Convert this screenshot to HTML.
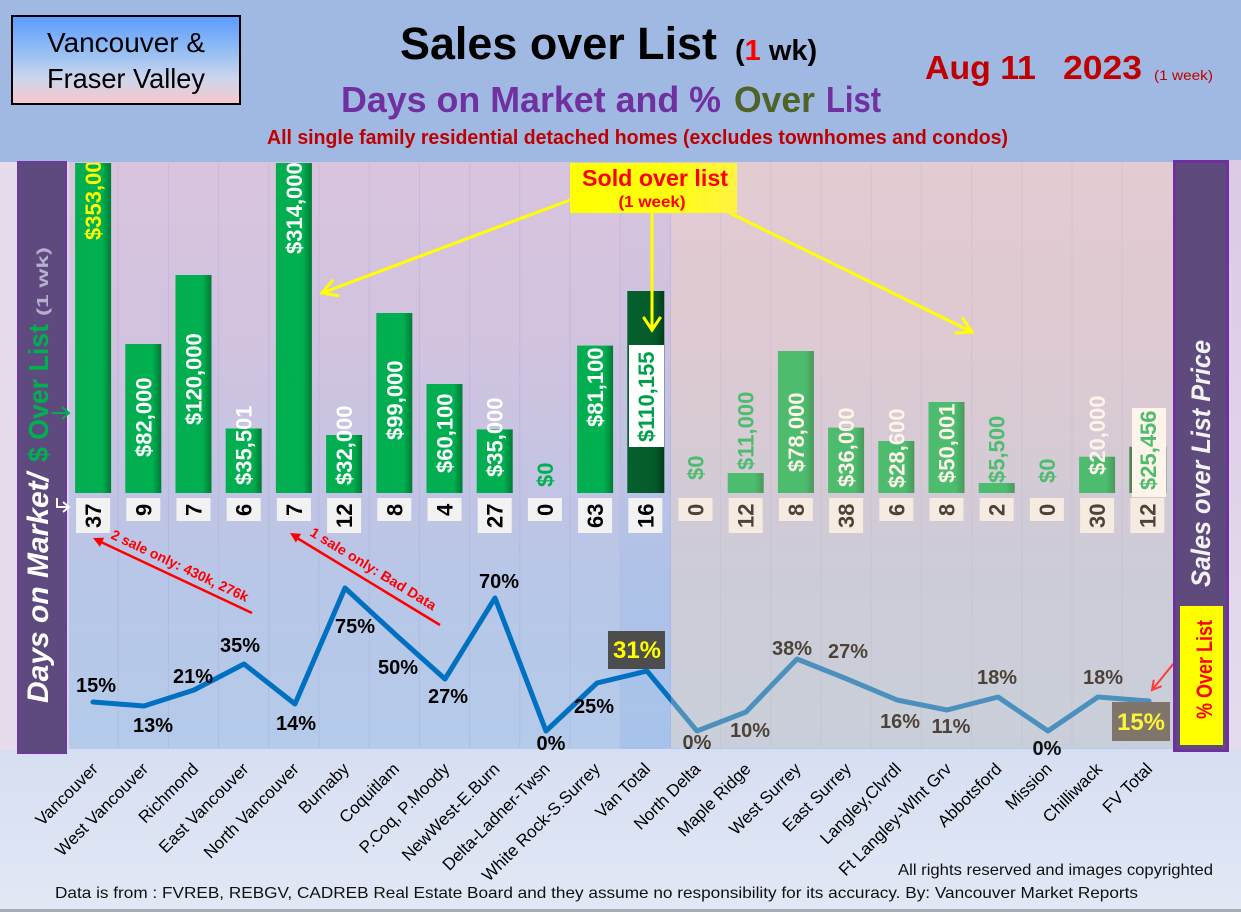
<!DOCTYPE html>
<html><head><meta charset="utf-8"><style>
html,body{margin:0;padding:0;width:1241px;height:912px;overflow:hidden;background:#dbe3f2}
svg{display:block}
text{font-family:"Liberation Sans",Arial,sans-serif}
</style></head><body>
<svg width="1241" height="912" viewBox="0 0 1241 912" xmlns="http://www.w3.org/2000/svg">
<defs>
 <linearGradient id="hdrbox" x1="0" y1="0" x2="0" y2="1">
  <stop offset="0" stop-color="#5a9bff"/><stop offset="0.45" stop-color="#9cc2f2"/><stop offset="0.72" stop-color="#cfd6ec"/><stop offset="1" stop-color="#f7c6c9"/>
 </linearGradient>
 <linearGradient id="plotbg" gradientUnits="userSpaceOnUse" x1="0" y1="162" x2="0" y2="750">
  <stop offset="0" stop-color="#d9c4de"/><stop offset="0.3" stop-color="#d2c3df"/><stop offset="0.55" stop-color="#c2c4e3"/><stop offset="0.7" stop-color="#b8c6e7"/><stop offset="1" stop-color="#b4cbea"/>
 </linearGradient>
 <linearGradient id="botbg" gradientUnits="userSpaceOnUse" x1="0" y1="748" x2="0" y2="912">
  <stop offset="0" stop-color="#d6dff2"/><stop offset="1" stop-color="#e2e8f5"/>
 </linearGradient>
 <linearGradient id="rmarg" x1="0" y1="0" x2="0" y2="1">
  <stop offset="0" stop-color="#dccae4"/><stop offset="1" stop-color="#e4dcee"/>
 </linearGradient>
 <linearGradient id="vtband" x1="0" y1="0" x2="0" y2="1">
  <stop offset="0" stop-color="#8fb4ec" stop-opacity="0"/><stop offset="0.5" stop-color="#8fb4ec" stop-opacity="0.12"/><stop offset="1" stop-color="#8fb4ec" stop-opacity="0.35"/>
 </linearGradient>
 <linearGradient id="bar" x1="0" y1="0" x2="1" y2="0">
  <stop offset="0" stop-color="#03ae50"/><stop offset="0.75" stop-color="#00b050"/><stop offset="1" stop-color="#007a36"/>
 </linearGradient>
 <linearGradient id="dbar" x1="0" y1="0" x2="1" y2="0">
  <stop offset="0" stop-color="#06602e"/><stop offset="0.75" stop-color="#055a2a"/><stop offset="1" stop-color="#023d1b"/>
 </linearGradient>
 <linearGradient id="sold" x1="0" y1="0" x2="1" y2="0">
  <stop offset="0" stop-color="#ffff00"/><stop offset="0.6" stop-color="#ffff10"/><stop offset="1" stop-color="#fff244"/>
 </linearGradient>
 <clipPath id="pc"><rect x="66" y="163" width="1108" height="587"/></clipPath>
</defs>

<!-- backgrounds -->
<rect x="0" y="0" width="1241" height="912" fill="url(#botbg)"/>
<rect x="0" y="0" width="1241" height="162" fill="#9fb9e3"/>
<rect x="0" y="162" width="17" height="588" fill="#e6dcec"/>
<rect x="1229" y="160" width="12" height="590" fill="url(#rmarg)"/>
<rect x="66" y="162" width="1108" height="587" fill="url(#plotbg)"/>
<rect x="621" y="162" width="50" height="587" fill="url(#vtband)"/>

<!-- vertical grid -->
<g stroke="#a79cd0" stroke-opacity="0.3" stroke-width="1">
 <line x1="118.2" y1="163" x2="118.2" y2="748"/><line x1="168.4" y1="163" x2="168.4" y2="748"/><line x1="218.6" y1="163" x2="218.6" y2="748"/><line x1="268.8" y1="163" x2="268.8" y2="748"/><line x1="319" y1="163" x2="319" y2="748"/><line x1="369.2" y1="163" x2="369.2" y2="748"/><line x1="419.4" y1="163" x2="419.4" y2="748"/><line x1="469.6" y1="163" x2="469.6" y2="748"/><line x1="519.8" y1="163" x2="519.8" y2="748"/><line x1="570" y1="163" x2="570" y2="748"/><line x1="620.2" y1="163" x2="620.2" y2="748"/><line x1="670.4" y1="163" x2="670.4" y2="748"/><line x1="720.6" y1="163" x2="720.6" y2="748"/><line x1="770.8" y1="163" x2="770.8" y2="748"/><line x1="821" y1="163" x2="821" y2="748"/><line x1="871.2" y1="163" x2="871.2" y2="748"/><line x1="921.4" y1="163" x2="921.4" y2="748"/><line x1="971.6" y1="163" x2="971.6" y2="748"/><line x1="1021.8" y1="163" x2="1021.8" y2="748"/><line x1="1072" y1="163" x2="1072" y2="748"/><line x1="1122.2" y1="163" x2="1122.2" y2="748"/>
</g>

<!-- bars -->
<g clip-path="url(#pc)">
 <rect x="75.1" y="150" width="36" height="343" fill="url(#bar)"/>
 <rect x="125.3" y="344" width="36" height="149" fill="url(#bar)"/>
 <rect x="175.5" y="275" width="36" height="218" fill="url(#bar)"/>
 <rect x="225.7" y="428.5" width="36" height="64.5" fill="url(#bar)"/>
 <rect x="275.9" y="150" width="36" height="343" fill="url(#bar)"/>
 <rect x="326.1" y="435" width="36" height="58" fill="url(#bar)"/>
 <rect x="376.3" y="313" width="36" height="180" fill="url(#bar)"/>
 <rect x="426.5" y="384" width="36" height="109" fill="url(#bar)"/>
 <rect x="476.7" y="429.4" width="36" height="63.6" fill="url(#bar)"/>
 <rect x="577.1" y="345.6" width="36" height="147.4" fill="url(#bar)"/>
 <rect x="627.3" y="291" width="37" height="202" fill="url(#dbar)"/>
 <rect x="727.7" y="473" width="36" height="20" fill="url(#bar)"/>
 <rect x="777.9" y="351" width="36" height="142" fill="url(#bar)"/>
 <rect x="828.1" y="427.6" width="36" height="65.4" fill="url(#bar)"/>
 <rect x="878.3" y="441" width="36" height="52" fill="url(#bar)"/>
 <rect x="928.5" y="402" width="36" height="91" fill="url(#bar)"/>
 <rect x="978.7" y="483" width="36" height="10" fill="url(#bar)"/>
 <rect x="1079.1" y="456.7" width="36" height="36.3" fill="url(#bar)"/>
 <rect x="1129.3" y="446.7" width="37" height="46.3" fill="url(#dbar)"/>

 <!-- label boxes -->
 <rect x="629" y="345" width="35" height="102" fill="#ffffff"/>
 <rect x="1132" y="408" width="34" height="89" fill="#ffffff"/>

 <!-- bar value labels -->
 <g font-size="22" font-weight="bold">
  <text transform="translate(101.1,240) rotate(-90)" fill="#ffff00">$353,000</text>
  <text transform="translate(151.3,457) rotate(-90)" fill="#ffffff">$82,000</text>
  <text transform="translate(201.5,425) rotate(-90)" fill="#ffffff">$120,000</text>
  <text transform="translate(251.7,485) rotate(-90)" fill="#ffffff">$35,501</text>
  <text transform="translate(301.9,254) rotate(-90)" fill="#ffffff">$314,000</text>
  <text transform="translate(352.1,485) rotate(-90)" fill="#ffffff">$32,000</text>
  <text transform="translate(402.3,440) rotate(-90)" fill="#ffffff">$99,000</text>
  <text transform="translate(452.5,473) rotate(-90)" fill="#ffffff">$60,100</text>
  <text transform="translate(502.7,477) rotate(-90)" fill="#ffffff">$35,000</text>
  <text transform="translate(552.9,487) rotate(-90)" fill="#00b050">$0</text>
  <text transform="translate(603.1,427) rotate(-90)" fill="#ffffff">$81,100</text>
  <text transform="translate(654,442) rotate(-90)" fill="#00a04a">$110,155</text>
  <text transform="translate(703.5,480) rotate(-90)" fill="#00b050">$0</text>
  <text transform="translate(753.7,470) rotate(-90)" fill="#00b050">$11,000</text>
  <text transform="translate(803.9,472) rotate(-90)" fill="#ffffff">$78,000</text>
  <text transform="translate(854.1,487) rotate(-90)" fill="#ffffff">$36,000</text>
  <text transform="translate(904.3,488) rotate(-90)" fill="#ffffff">$28,600</text>
  <text transform="translate(954.5,483) rotate(-90)" fill="#ffffff">$50,001</text>
  <text transform="translate(1004.7,483) rotate(-90)" fill="#00b050">$5,500</text>
  <text transform="translate(1054.9,483) rotate(-90)" fill="#00b050">$0</text>
  <text transform="translate(1105.1,475) rotate(-90)" fill="#ffffff">$20,000</text>
  <text transform="translate(1156,490) rotate(-90)" fill="#00b050">$25,456</text>
 </g>
</g>

<!-- days boxes -->
<g fill="#f2f2f2">
 <rect x="76.1" y="498" width="34" height="35"/><rect x="126.3" y="498" width="34" height="23"/><rect x="176.5" y="498" width="34" height="23"/><rect x="226.7" y="498" width="34" height="23"/><rect x="276.9" y="498" width="34" height="23"/><rect x="327.1" y="498" width="34" height="35"/><rect x="377.3" y="498" width="34" height="23"/><rect x="427.5" y="498" width="34" height="23"/><rect x="477.7" y="498" width="34" height="35"/><rect x="527.9" y="498" width="34" height="23"/><rect x="578.1" y="498" width="34" height="35"/><rect x="628.3" y="498" width="34" height="35"/>
 <rect x="678.5" y="498" width="34" height="23"/><rect x="728.7" y="498" width="34" height="35"/><rect x="778.9" y="498" width="34" height="23"/><rect x="829.1" y="498" width="34" height="35"/><rect x="879.3" y="498" width="34" height="23"/><rect x="929.5" y="498" width="34" height="23"/><rect x="979.7" y="498" width="34" height="23"/><rect x="1029.9" y="498" width="34" height="23"/><rect x="1080.1" y="498" width="34" height="35"/><rect x="1130.3" y="498" width="34" height="35"/>
</g>
<g font-size="22" font-weight="bold" fill="#000">
 <text transform="translate(101.1,528) rotate(-90)">37</text>
 <text transform="translate(151.3,516) rotate(-90)">9</text>
 <text transform="translate(201.5,516) rotate(-90)">7</text>
 <text transform="translate(251.7,516) rotate(-90)">6</text>
 <text transform="translate(301.9,516) rotate(-90)">7</text>
 <text transform="translate(352.1,528) rotate(-90)">12</text>
 <text transform="translate(402.3,516) rotate(-90)">8</text>
 <text transform="translate(452.5,516) rotate(-90)">4</text>
 <text transform="translate(502.7,528) rotate(-90)">27</text>
 <text transform="translate(552.9,516) rotate(-90)">0</text>
 <text transform="translate(603.1,528) rotate(-90)">63</text>
 <text transform="translate(653.3,528) rotate(-90)">16</text>
 <text transform="translate(703.5,516) rotate(-90)">0</text>
 <text transform="translate(753.7,528) rotate(-90)">12</text>
 <text transform="translate(803.9,516) rotate(-90)">8</text>
 <text transform="translate(854.1,528) rotate(-90)">38</text>
 <text transform="translate(904.3,516) rotate(-90)">6</text>
 <text transform="translate(954.5,516) rotate(-90)">8</text>
 <text transform="translate(1004.7,516) rotate(-90)">2</text>
 <text transform="translate(1054.9,516) rotate(-90)">0</text>
 <text transform="translate(1105.1,528) rotate(-90)">30</text>
 <text transform="translate(1155.3,528) rotate(-90)">12</text>
</g>

<!-- % over list line -->
<polyline fill="none" stroke="#0070c0" stroke-width="5" stroke-linejoin="round" stroke-linecap="round"
 points="93,702 144,706 194,690 244,664 295,704 345,588 396,635 445,679 495,598 546,731 597,683 647,671 697,731 746,712 797,659 847,679 897,700 947,710 998,697 1048,731 1098,697 1149,701"/>

<!-- line labels -->
<g font-size="20" font-weight="bold" fill="#000" text-anchor="middle">
 <text x="96" y="692">15%</text>
 <text x="153" y="732">13%</text>
 <text x="193" y="683">21%</text>
 <text x="240" y="652">35%</text>
 <text x="296" y="730">14%</text>
 <text x="355" y="633">75%</text>
 <text x="398" y="674">50%</text>
 <text x="448" y="703">27%</text>
 <text x="499" y="588">70%</text>
 <text x="551" y="750">0%</text>
 <text x="594" y="713">25%</text>
 <text x="697" y="749">0%</text>
 <text x="750" y="737">10%</text>
 <text x="792" y="655">38%</text>
 <text x="848" y="658">27%</text>
 <text x="900" y="728">16%</text>
 <text x="951" y="733">11%</text>
 <text x="997" y="684">18%</text>
 <text x="1103" y="684">18%</text>
</g>
<rect x="608" y="631" width="57" height="38" fill="#4d4d4d"/>
<text x="637" y="658" font-size="24" font-weight="bold" fill="#ffff00" text-anchor="middle">31%</text>
<rect x="1112" y="702" width="58" height="39" fill="#4a4a4a"/>
<text x="1141" y="730" font-size="24" font-weight="bold" fill="#ffff00" text-anchor="middle">15%</text>

<!-- Fraser Valley overlay -->
<rect x="671" y="162" width="503" height="586" fill="rgb(253,219,182)" fill-opacity="0.3"/>
<text x="1047" y="755" font-size="20" font-weight="bold" fill="#111" text-anchor="middle">0%</text>

<!-- red annotations -->
<g stroke="#ff0000" stroke-width="2.5" fill="none">
 <line x1="252" y1="613" x2="101" y2="542"/>
 <line x1="440" y1="625" x2="297" y2="538"/>
</g>
<polygon points="93,538 104.1,537.8 99.9,546.8" fill="#ff0000"/>
<polygon points="290,533 301.1,533.9 295.9,542.5" fill="#ff0000"/>
<text transform="translate(110,538) rotate(25.3)" font-size="14" font-weight="bold" fill="#ff0000" textLength="150" lengthAdjust="spacingAndGlyphs">2 sale only: 430k, 276k</text>
<text transform="translate(309,535) rotate(31.5)" font-size="14" font-weight="bold" fill="#ff0000" textLength="145" lengthAdjust="spacingAndGlyphs">1 sale only: Bad Data</text>
<g stroke="#ff3b3b" stroke-width="2" fill="none">
 <line x1="1174" y1="663" x2="1152" y2="690"/>
 <polyline points="1161.6,686.2 1152,690 1153.8,679.8"/>
</g>

<!-- yellow arrows -->
<g stroke="#ffff00" stroke-width="3" fill="none" stroke-linecap="round">
 <line x1="570" y1="200" x2="322" y2="293"/>
 <polyline points="337.9,295.6 322,293 332.3,280.6"/>
 <line x1="652" y1="213" x2="652" y2="330"/>
 <polyline points="644,318 652,330 660,318"/>
 <line x1="730" y1="213" x2="972" y2="332"/>
 <polyline points="955.9,333 972,332 962.9,318.6"/>
</g>
<rect x="570" y="163" width="167" height="50" fill="url(#sold)"/>
<text x="655" y="186" font-size="23" font-weight="bold" fill="#ff0000" text-anchor="middle" textLength="146" lengthAdjust="spacingAndGlyphs">Sold over list</text>
<text x="652" y="207" font-size="16" font-weight="bold" fill="#ff0000" text-anchor="middle" textLength="67" lengthAdjust="spacingAndGlyphs">(1 week)</text>

<!-- left panel -->
<rect x="18" y="162" width="48" height="591" fill="#5e4a7e" stroke="#6c3a9c" stroke-width="2"/>
<rect x="67" y="162" width="2" height="588" fill="#ddd5ea"/>
<text transform="translate(48,703) rotate(-90)" font-size="30" font-weight="bold" font-style="italic" fill="#ffffff" textLength="230" lengthAdjust="spacingAndGlyphs">Days on Market/</text>
<text transform="translate(48,462) rotate(-90)" font-size="28" font-weight="bold" fill="#00b050" textLength="138" lengthAdjust="spacingAndGlyphs">$ Over List</text>
<text transform="translate(48,316) rotate(-90)" font-size="16" font-weight="bold" fill="#b8aed0" textLength="69" lengthAdjust="spacingAndGlyphs">(1 wk)</text>
<g fill="none" stroke-width="2">
 <g stroke="#00b050"><line x1="52" y1="413" x2="69" y2="413"/><polyline points="62,407 69,413 62,419"/></g>
 <g stroke="#ffffff"><polyline points="57,498 57,507 69,507"/><polyline points="63,502 69,507 63,512"/></g>
</g>

<!-- right panel -->
<rect x="1174.5" y="161.5" width="53" height="589" fill="#5f4a7d" stroke="#7030a0" stroke-width="3"/>
<text transform="translate(1210,587) rotate(-90)" font-size="27" font-weight="bold" font-style="italic" fill="#f2f2f2" textLength="247" lengthAdjust="spacingAndGlyphs">Sales over List Price</text>
<rect x="1180" y="606" width="43" height="139" fill="#ffff00"/>
<text transform="translate(1212,719) rotate(-90)" font-size="22" font-weight="bold" fill="#ff0000" textLength="99" lengthAdjust="spacingAndGlyphs">% Over List</text>

<!-- header -->
<rect x="12" y="16" width="228" height="88" fill="url(#hdrbox)" stroke="#000" stroke-width="2"/>
<text x="126" y="52" font-size="28" fill="#000" text-anchor="middle" textLength="158" lengthAdjust="spacingAndGlyphs">Vancouver &amp;</text>
<text x="126" y="88" font-size="28" fill="#000" text-anchor="middle" textLength="158" lengthAdjust="spacingAndGlyphs">Fraser Valley</text>

<text x="400" y="59" font-size="45" font-weight="bold" fill="#000" textLength="317" lengthAdjust="spacingAndGlyphs">Sales over List</text>
<text x="735" y="60" font-size="29" font-weight="bold" fill="#000">(<tspan fill="#ff0000">1</tspan> wk)</text>

<text x="341" y="112" font-size="36" font-weight="bold" fill="#7030a0" textLength="380" lengthAdjust="spacingAndGlyphs">Days on Market and %</text>
<text x="734" y="112" font-size="36" font-weight="bold" fill="#4f6228" textLength="81" lengthAdjust="spacingAndGlyphs">Over</text>
<text x="826" y="112" font-size="36" font-weight="bold" fill="#7030a0" textLength="55" lengthAdjust="spacingAndGlyphs">List</text>

<text x="267" y="144" font-size="20" font-weight="bold" fill="#c00000" textLength="741" lengthAdjust="spacingAndGlyphs">All single family residential detached homes (excludes townhomes and condos)</text>

<text x="925" y="79" font-size="33" font-weight="bold" fill="#c00000" textLength="111" lengthAdjust="spacingAndGlyphs">Aug 11</text>
<text x="1063" y="79" font-size="33" font-weight="bold" fill="#c00000" textLength="79" lengthAdjust="spacingAndGlyphs">2023</text>
<text x="1154" y="80" font-size="14" fill="#c00000" textLength="59" lengthAdjust="spacingAndGlyphs">(1 week)</text>

<!-- category labels -->
<g font-size="17" fill="#000" text-anchor="end">
 <text transform="translate(99,770) rotate(-45)">Vancouver</text>
 <text transform="translate(149.3,770) rotate(-45)">West Vancouver</text>
 <text transform="translate(199.5,770) rotate(-45)">Richmond</text>
 <text transform="translate(249.7,770) rotate(-45)">East Vancouver</text>
 <text transform="translate(299.9,770) rotate(-45)">North Vancouver</text>
 <text transform="translate(350.1,770) rotate(-45)">Burnaby</text>
 <text transform="translate(400.3,770) rotate(-45)">Coquitlam</text>
 <text transform="translate(450.5,770) rotate(-45)">P.Coq, P.Moody</text>
 <text transform="translate(500.7,770) rotate(-45)">NewWest-E.Burn</text>
 <text transform="translate(550.9,770) rotate(-45)">Delta-Ladner-Twsn</text>
 <text transform="translate(601.1,770) rotate(-45)">White Rock-S.Surrey</text>
 <text transform="translate(651.3,770) rotate(-45)">Van Total</text>
 <text transform="translate(701.5,770) rotate(-45)">North Delta</text>
 <text transform="translate(751.7,770) rotate(-45)">Maple Ridge</text>
 <text transform="translate(801.9,770) rotate(-45)">West Surrey</text>
 <text transform="translate(852.1,770) rotate(-45)">East Surrey</text>
 <text transform="translate(902.3,770) rotate(-45)">Langley,Clvrdl</text>
 <text transform="translate(952.5,770) rotate(-45)">Ft Langley-Wlnt Grv</text>
 <text transform="translate(1002.7,770) rotate(-45)">Abbotsford</text>
 <text transform="translate(1052.9,770) rotate(-45)">Mission</text>
 <text transform="translate(1103.1,770) rotate(-45)">Chilliwack</text>
 <text transform="translate(1153.3,770) rotate(-45)">FV Total</text>
</g>

<!-- footer -->
<text x="898" y="875" font-size="16" fill="#111" textLength="315" lengthAdjust="spacingAndGlyphs">All rights reserved and  images copyrighted</text>
<text x="55" y="898" font-size="16" fill="#111" textLength="1083" lengthAdjust="spacingAndGlyphs">Data is from : FVREB, REBGV, CADREB Real Estate Board and they assume no responsibility for its accuracy. By: Vancouver Market Reports</text>
<rect x="0" y="909" width="1241" height="3" fill="#a8acb4"/>
</svg>
</body></html>
